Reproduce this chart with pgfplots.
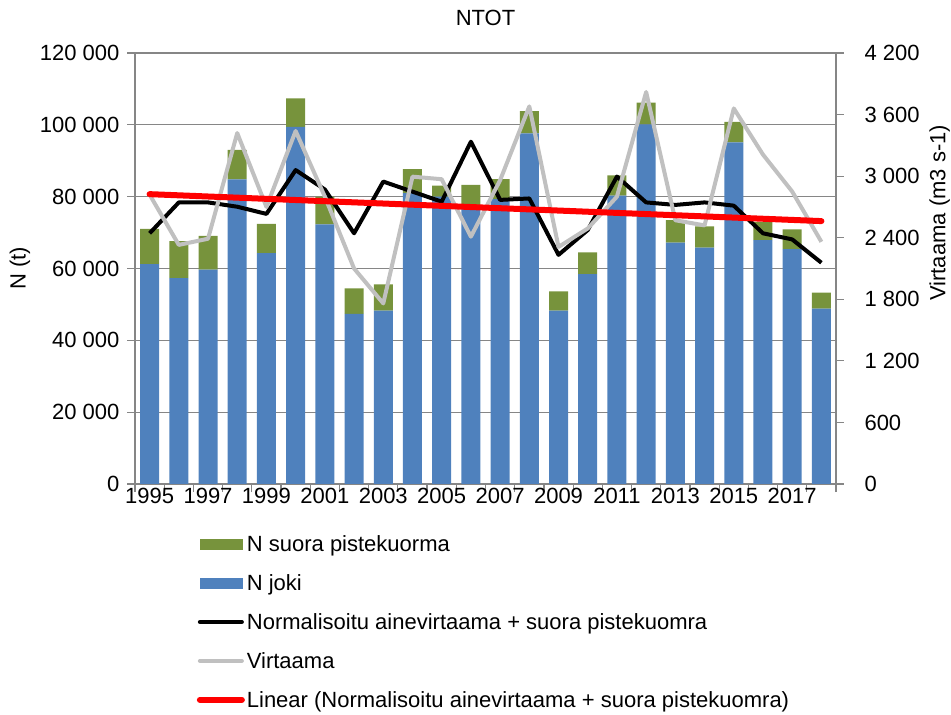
\documentclass[border=0pt]{standalone}
\usepackage{pgfplots}
\pgfplotsset{compat=1.18}
\usepackage{pgfplotstable}
\usepackage{fontspec}
\setmainfont{Liberation Sans}
\definecolor{cblue}{HTML}{4F81BD}
\definecolor{cgreen}{HTML}{77933C}
\definecolor{cgrey}{HTML}{C0C0C0}
\definecolor{axgray}{HTML}{868686}
\definecolor{cred}{HTML}{FF0000}

\pgfplotstableread{
year joki suora norm virt
1995 61200 9800 69800 2820
1996 57300 10300 78400 2330
1997 59700 9400 78400 2390
1998 84800 8200 77200 3420
1999 64300 8100 75200 2700
2000 99400 8000 87400 3440
2001 72300 7700 82000 2800
2002 47400 7100 69800 2100
2003 48300 7300 84200 1760
2004 81000 6700 81400 2995
2005 80000 3100 78600 2970
2006 77000 6300 95300 2410
2007 79300 5600 79100 2960
2008 97600 6200 79500 3680
2009 48300 5300 63800 2310
2010 58400 6100 70700 2490
2011 80300 5600 85600 2800
2012 100100 6100 78400 3820
2013 67200 6300 77700 2570
2014 65800 5900 78400 2520
2015 95100 5700 77500 3660
2016 67900 5100 69800 3210
2017 65400 5500 68100 2850
2018 48800 4500 61600 2360
}\data

\pgfplotsset{
  base/.style={
    scale only axis, width=701pt, height=431pt,
    xmin=1994.5, xmax=2018.5,
    font=\fontsize{22}{26}\selectfont,
    tick label style={font=\fontsize{22}{26}\selectfont},
    /pgf/number format/fixed,
    /pgf/number format/precision=0,
    /pgf/number format/assume math mode=true,
    /pgf/number format/1000 sep={~},
    scaled y ticks=false,
    tick align=outside,
    axis line style={-, draw=axgray, line width=1.2pt},
    tick style={draw=axgray, line width=1.2pt},
    major tick length=8pt,
  },
}

\begin{document}
\begin{tikzpicture}
\useasboundingbox (-135pt,-231pt) rectangle (816pt,484pt);
% bars + left axis
\begin{axis}[base,
  ymin=0, ymax=120000, ytick={0,20000,...,120000},
  ymajorgrids, grid style={draw=axgray, line width=1.2pt},
  axis y line*=left, axis x line*=bottom,
  xtick={1994.5,1995.5,...,2018.5}, xticklabels={},
  yticklabel style={xshift=-4pt},
  ylabel={N (t)},
  ylabel style={at={(axis description cs:-0.164,0.5)}, anchor=center},
  title={NTOT},
  title style={at={(axis description cs:0.5,1.067)}, anchor=center},
  ybar stacked, bar width=0.65,
]
\addplot[fill=cblue, draw=none] table[x=year, y=joki] {\data};
\addplot[fill=cgreen, draw=none] table[x=year, y=suora] {\data};
\end{axis}
% black line + x labels
\begin{axis}[base,
  ymin=0, ymax=120000,
  axis y line=none, axis x line*=bottom,
  x axis line style={draw=none},
  xtick={1995,1997,...,2017},
  xticklabels={1995,1997,1999,2001,2003,2005,2007,2009,2011,2013,2015,2017},
  major tick length=0pt, xtick style={draw=none},
  xticklabel style={yshift=-1pt},
]
\addplot[black, line width=4pt, line join=round] table[x=year, y=norm] {\data};
\end{axis}
% grey line + right axis
\begin{axis}[base,
  ymin=0, ymax=4200, ytick={0,600,...,4200},
  axis y line*=right, axis x line=none,
  yticklabel style={xshift=17pt},
  ylabel={Virtaama (m3 s-1)},
  ylabel style={at={(axis description cs:1.148,0.629)}, anchor=center, rotate=0},
]
\addplot[cgrey, line width=4pt, line join=round] table[x=year, y=virt] {\data};
\end{axis}
% red trend + legend
\begin{axis}[base,
  ymin=0, ymax=120000,
  axis lines=none,
  legend cell align=left,
  legend style={draw=none, fill=none, at={(axis description cs:0.088,-0.114)}, anchor=north west,
    row sep=17.5pt, inner sep=0pt,
    font=\fontsize{22}{26}\selectfont},
]
\addlegendimage{legend image code/.code={\fill[cgreen] (0pt,-5pt) rectangle (42pt,5pt);}}
\addlegendentry{N suora pistekuorma}
\addlegendimage{legend image code/.code={\fill[cblue] (0pt,-5pt) rectangle (42pt,5pt);}}
\addlegendentry{N joki}
\addlegendimage{legend image code/.code={\draw[black, line width=4pt, line cap=round] (0pt,0pt) -- (42pt,0pt);}}
\addlegendentry{Normalisoitu ainevirtaama + suora pistekuomra}
\addlegendimage{legend image code/.code={\draw[cgrey, line width=4pt, line cap=round] (0pt,0pt) -- (42pt,0pt);}}
\addlegendentry{Virtaama}
\addlegendimage{legend image code/.code={\draw[cred, line width=6pt, line cap=round] (0pt,0pt) -- (42pt,0pt);}}
\addplot[cred, line width=6pt, line cap=round, forget plot] coordinates {(1995,80700) (2018,73200)};
\addlegendentry{Linear (Normalisoitu ainevirtaama + suora pistekuomra)}
\end{axis}
\end{tikzpicture}
\end{document}
